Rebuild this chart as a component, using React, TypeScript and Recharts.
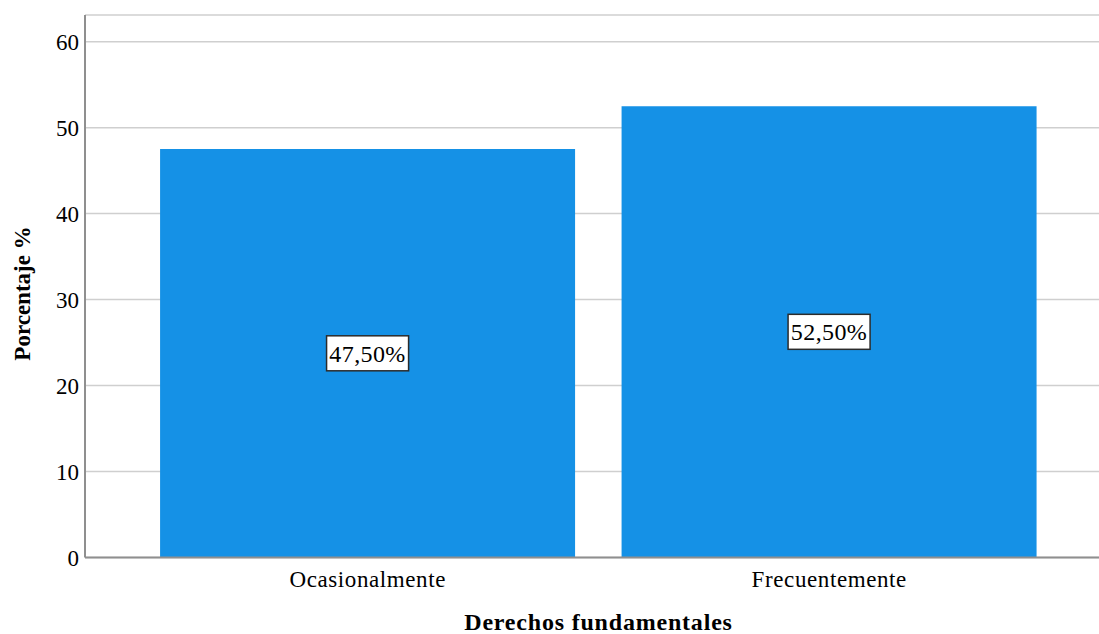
import React from 'react';
import { BarChart, Bar, XAxis, YAxis, CartesianGrid, LabelList } from 'recharts';

const categories = ['Ocasionalmente', 'Frecuentemente'];
const percentages = [47.5, 52.5];
const valueLabels = ['47,50%', '52,50%'];
const yTicks = [0, 10, 20, 30, 40, 50, 60];

const data = categories.map((c, i) => ({ name: c, value: percentages[i], label: valueLabels[i] }));

const FONT = '"Liberation Serif", "Times New Roman", serif';

const BoxLabel = (props: any) => {
  const { x, y, width, height, index } = props;
  const cx = x + width / 2;
  const cy = y + height / 2;
  const w = 82;
  const h = 35;
  return (
    <g>
      <rect x={cx - w / 2} y={cy - h / 2} width={w} height={h} fill="#ffffff" stroke="#2b2b2b" strokeWidth={1.5} />
      <text x={cx} y={cy} dy="0.35em" textAnchor="middle" fontFamily={FONT} fontSize={24} letterSpacing={0.4} fill="#000">
        {valueLabels[index]}
      </text>
    </g>
  );
};

export default function App() {
  return (
    <div style={{ position: 'absolute', left: 0, top: 0, width: 1099, height: 634, background: '#fff', overflow: 'hidden' }}>
      <BarChart
        width={1099}
        height={634}
        data={data}
        margin={{ top: 15, right: 0, left: 0, bottom: 0 }}
        barCategoryGap="5%"
      >
        <CartesianGrid horizontal vertical={false} stroke="#cfcfcf" strokeWidth={1.5} />
        <XAxis
          dataKey="name"
          height={76.5}
          padding={{ left: 52, right: 39 }}
          tickLine={false}
          axisLine={{ stroke: '#8f8f8f', strokeWidth: 2 }}
          tick={{ fontFamily: FONT, fontSize: 23, fill: '#000', letterSpacing: 0.6 }}
          tickMargin={7}
          label={{
            content: () => (
              <text x={598.5} y={630} textAnchor="middle" fontFamily={FONT} fontSize={24} letterSpacing={0.8} fontWeight="bold" fill="#000">
                Derechos fundamentales
              </text>
            ),
          }}
        />
        <YAxis
          width={85}
          domain={[0, 63.1]}
          ticks={yTicks}
          tickLine={false}
          axisLine={{ stroke: '#8f8f8f', strokeWidth: 2 }}
          tick={{ fontFamily: FONT, fontSize: 23, fill: '#000' }}
          tickMargin={0}
          label={{
            content: () => (
              <text
                x={22}
                y={293.5}
                textAnchor="middle"
                dy="0.35em"
                transform="rotate(-90 22 293.5)"
                fontFamily={FONT}
                fontSize={23}
                fontWeight="bold"
                fill="#000"
              >
                Porcentaje %
              </text>
            ),
          }}
        />
        <Bar dataKey="value" fill="#1591e6" isAnimationActive={false}>
          <LabelList dataKey="label" content={BoxLabel} />
        </Bar>
      </BarChart>
    </div>
  );
}
